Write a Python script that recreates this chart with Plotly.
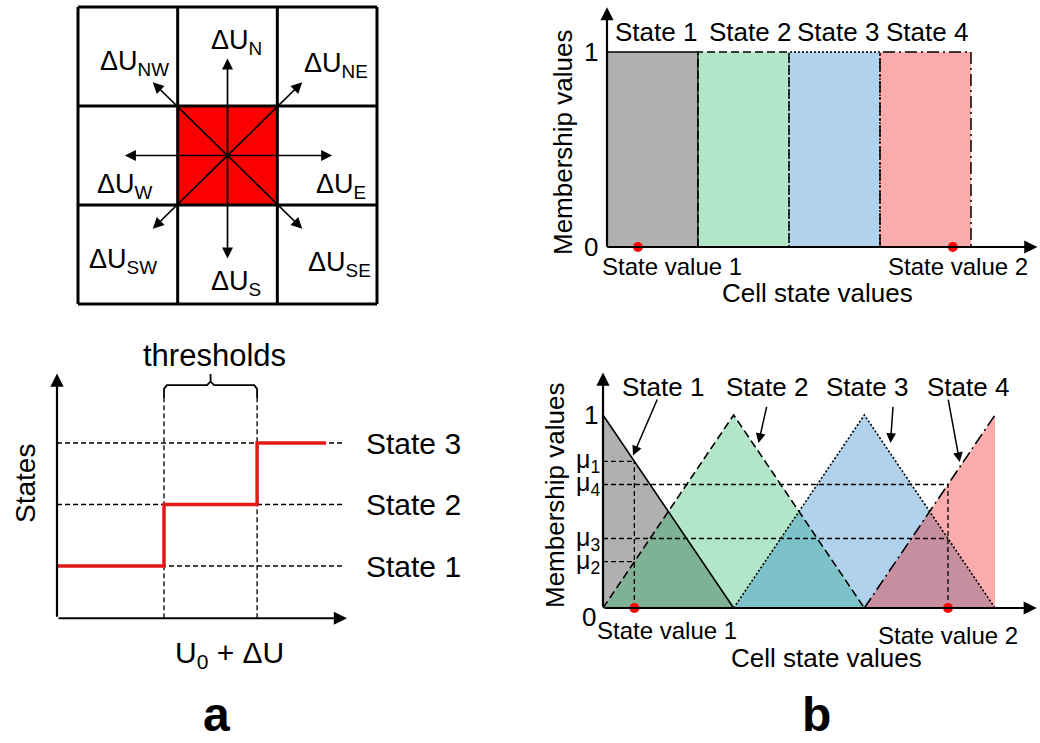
import numpy as np
import plotly.graph_objects as go

W, H = 1040, 743
FONT = "Liberation Sans, Arial, sans-serif"

# ---------------- data ----------------
# (a) top: 3x3 neighbourhood grid
grid_lines = [0, 1, 2, 3]
center_cell = [1, 2]
center_pt = [1.5, 1.5]
arrow_names = ["N", "NE", "E", "SE", "S", "SW", "W", "NW"]
arrow_dx = [0.0, 0.75, 1.05, 0.75, 0.0, -0.75, -1.03, -0.75]
arrow_dy = [0.98, 0.74, 0.0, -0.74, -1.04, -0.74, 0.0, 0.74]

# (a) bottom: step function
state_levels = [1, 2, 3]
state_names = ["State 1", "State 2", "State 3"]
thresholds = [3.69, 6.9]
step_x = [0, 3.69, 6.9, 9.28]
step_y = [1, 2, 3, 3]
guide_end = 9.93
axis_a2_base = 0.15

# (b) top: crisp membership
crisp_edges = [0, 1, 2, 3, 4]
crisp_names = ["State 1", "State 2", "State 3", "State 4"]
crisp_state_values = [0.34, 3.80]

# (b) bottom: fuzzy membership
fuzzy_fill_x = [[0, 0, 1], [0, 1, 2], [1, 2, 3], [2, 3, 3]]
fuzzy_fill_y = [[0, 1, 0], [0, 1, 0], [0, 1, 0], [0, 1, 0]]
fuzzy_line_x = [[0, 1], [0, 1, 2], [1, 2, 3], [2, 3]]
fuzzy_line_y = [[1, 0], [0, 1, 0], [0, 1, 0], [0, 1]]
fuzzy_state_values = [0.24, 2.64]
label_arrow_tail = [(0.42, 1.088), (1.255, 1.05), (2.22, 1.05), (2.64, 1.088)]
label_arrow_head = [(0.23, 0.79), (1.19, 0.855), (2.20, 0.855), (2.73, 0.756)]

fills = ["rgba(29,29,29,0.35)", "rgba(36,184,99,0.35)",
         "rgba(29,126,201,0.35)", "rgba(241,18,18,0.35)"]
dashes = ["solid", "8px,4px", "2px,2px", "12px,4px,2px,4px"]

# membership degrees at the two state values
mu1 = float(np.interp(fuzzy_state_values[0], [0, 1], [1, 0]))
mu2 = float(np.interp(fuzzy_state_values[0], fuzzy_line_x[1], fuzzy_line_y[1]))
mu3 = float(np.interp(fuzzy_state_values[1], fuzzy_line_x[2], fuzzy_line_y[2]))
mu4 = float(np.interp(fuzzy_state_values[1], fuzzy_line_x[3], fuzzy_line_y[3]))


# ---------------- helpers ----------------
def ax_domain(v0, p0, v1, p1, rmin, rmax, size, vertical=False):
    s = (p1 - p0) / (v1 - v0)
    a = p0 + (rmin - v0) * s
    b = p0 + (rmax - v0) * s
    if vertical:
        return [1 - a / size, 1 - b / size]
    return [a / size, b / size]


anns = []
shapes = []


def text(s, x, y, size, angle=0, bold=False, xanchor="center", yanchor="middle"):
    if bold:
        s = "<b>" + s + "</b>"
    anns.append(dict(text=s, x=x / W, y=1 - y / H, xref="paper", yref="paper",
                     showarrow=False, textangle=angle, xanchor=xanchor, yanchor=yanchor,
                     font=dict(size=size, family=FONT, color="black")))


def text_y(s, x, yv, yref, size, xanchor="center"):
    anns.append(dict(text=s, x=x / W, y=yv, xref="paper", yref=yref,
                     showarrow=False, xanchor=xanchor, yanchor="middle",
                     font=dict(size=size, family=FONT, color="black")))


def arrow(xa, ya, x0, y0, x1, y1, width, size=1.0, head=2):
    anns.append(dict(x=x1, y=y1, ax=x0, ay=y0, xref=xa, yref=ya, axref=xa, ayref=ya,
                     text="", showarrow=True, arrowhead=head, arrowsize=size,
                     arrowwidth=width, arrowcolor="black", standoff=0, startstandoff=0))


fig = go.Figure()


def line(xa, ya, xs, ys, color="black", width=1.5, dash="solid"):
    fig.add_trace(go.Scatter(x=xs, y=ys, xaxis=xa, yaxis=ya, mode="lines",
                             line=dict(color=color, width=width, dash=dash),
                             hoverinfo="skip"))


# ---------------- (a) top: grid ----------------
shapes.append(dict(type="rect", xref="x", yref="y", x0=center_cell[0], x1=center_cell[1],
                   y0=center_cell[0], y1=center_cell[1], fillcolor="rgb(250,0,0)",
                   line=dict(width=0), layer="below"))
for g in grid_lines:
    shapes.append(dict(type="line", xref="x", yref="y", x0=g, x1=g, y0=grid_lines[0],
                       y1=grid_lines[-1], line=dict(color="black", width=3)))
    shapes.append(dict(type="line", xref="x", yref="y", y0=g, y1=g, x0=grid_lines[0],
                       x1=grid_lines[-1], line=dict(color="black", width=3)))
for dx, dy in zip(arrow_dx, arrow_dy):
    arrow("x", "y", center_pt[0], center_pt[1], center_pt[0] + dx, center_pt[1] + dy,
          1.7, 1.3, 2)
fig.add_trace(go.Scatter(x=[center_pt[0]], y=[center_pt[1]], xaxis="x", yaxis="y",
                         mode="markers", marker=dict(color="black", size=5), hoverinfo="skip"))

grid_label_pos = {"N": (236, 42), "NE": (336, 65), "E": (341, 186), "SE": (339, 264),
                  "S": (236, 283), "SW": (123, 261), "W": (125, 186), "NW": (134, 63)}
for n in arrow_names:
    px, py = grid_label_pos[n]
    text("\u0394U<sub>%s</sub>" % n, px, py, 27)

# ---------------- (a) bottom: step ----------------
for lv in state_levels:
    line("x2", "y2", [0, guide_end], [lv, lv], dash="5px,3px", width=1.3)
brace_top = 3.73
for t in thresholds:
    line("x2", "y2", [t, t], [axis_a2_base, brace_top], dash="5px,3px", width=1.3)
mid = (thresholds[0] + thresholds[1]) / 2
brace_x = [thresholds[0], thresholds[0], thresholds[0] + 0.1, mid - 0.12, mid, mid, mid,
           mid + 0.12, thresholds[1] - 0.1, thresholds[1], thresholds[1]]
brace_y = [brace_top, 3.88, 3.94, 3.94, 4.0, 4.12, 4.0, 3.94, 3.94, 3.88, brace_top]
line("x2", "y2", brace_x, brace_y, width=1.8)
fig.add_trace(go.Scatter(x=step_x, y=step_y, xaxis="x2", yaxis="y2", mode="lines",
                         line=dict(color="rgb(225,25,25)", width=3.5, shape="hv"),
                         hoverinfo="skip"))
arrow("x2", "y2", 0, axis_a2_base, 0, 4.13, 2.2, 1.2, 2)
arrow("x2", "y2", 0, axis_a2_base, 10.0, axis_a2_base, 2.2, 1.2, 2)
for lv, nm in zip(state_levels, state_names):
    text_y(nm, 413, lv, "y2", 30)
text("thresholds", 214, 355, 31)
text("States", 25, 484, 28, angle=-90)
text("U<sub>0</sub> + \u0394U", 229, 654, 30)
text("a", 216, 743, 48, bold=True, yanchor="bottom")

# ---------------- (b) top: crisp ----------------
for i in range(4):
    a, b = crisp_edges[i], crisp_edges[i + 1]
    fig.add_trace(go.Scatter(x=[a, a, b, b, a], y=[0, 1, 1, 0, 0], xaxis="x3", yaxis="y3",
                             mode="lines", fill="toself", fillcolor=fills[i],
                             line=dict(color="black", width=1.5, dash=dashes[i]),
                             hoverinfo="skip"))
fig.add_trace(go.Scatter(x=crisp_state_values, y=[0, 0], xaxis="x3", yaxis="y3",
                         mode="markers", marker=dict(color="red", size=10),
                         cliponaxis=False, hoverinfo="skip"))
arrow("x3", "y3", 0, 0, 0, 1.23, 2.2, 1.2, 2)
arrow("x3", "y3", 0, 0, 4.73, 0, 2.2, 1.2, 2)
for i, nm in enumerate(crisp_names):
    text(nm, [656, 750, 838, 927][i], 32, 26)
text_y("1", 600, 1, "y3", 26, xanchor="right")
text_y("0", 600, 0, "y3", 26, xanchor="right")
text("Membership values", 563, 143, 26, angle=-90)
text("State value 1", 672, 267, 24)
text("State value 2", 958, 267, 24)
text("Cell state values", 817, 293, 26)

# ---------------- (b) bottom: fuzzy ----------------
for i in range(4):
    fig.add_trace(go.Scatter(x=fuzzy_fill_x[i], y=fuzzy_fill_y[i], xaxis="x4", yaxis="y4",
                             mode="lines", fill="toself", fillcolor=fills[i],
                             line=dict(width=0), hoverinfo="skip"))
for i in range(4):
    line("x4", "y4", fuzzy_line_x[i], fuzzy_line_y[i], width=1.6, dash=dashes[i])
sv1, sv2 = fuzzy_state_values
for m in (mu1, mu2):
    line("x4", "y4", [0, sv1], [m, m], dash="5px,3px", width=1.3)
line("x4", "y4", [sv1, sv1], [0, max(mu1, mu2)], dash="5px,3px", width=1.3)
for m in (mu3, mu4):
    line("x4", "y4", [0, sv2], [m, m], dash="5px,3px", width=1.3)
line("x4", "y4", [sv2, sv2], [0, max(mu3, mu4)], dash="5px,3px", width=1.3)
fig.add_trace(go.Scatter(x=fuzzy_state_values, y=[0, 0], xaxis="x4", yaxis="y4",
                         mode="markers", marker=dict(color="red", size=10),
                         cliponaxis=False, hoverinfo="skip"))
arrow("x4", "y4", 0, 0, 0, 1.22, 2.2, 1.2, 2)
arrow("x4", "y4", 0, 0, 3.32, 0, 2.2, 1.2, 2)
for (tx, ty), (hx, hy) in zip(label_arrow_tail, label_arrow_head):
    arrow("x4", "y4", tx, ty, hx, hy, 1.5, 1.3, 2)
for i, nm in enumerate(crisp_names):
    text(nm, [663, 767, 867, 968][i], 387, 26)
text_y("1", 600, 1, "y4", 26, xanchor="right")
text("0", 598, 617, 26, xanchor="right")
for lab, m in (("\u03bc<sub>1</sub>", mu1), ("\u03bc<sub>2</sub>", mu2),
               ("\u03bc<sub>3</sub>", mu3), ("\u03bc<sub>4</sub>", mu4)):
    text_y(lab, 602, m, "y4", 25, xanchor="right")
text("Membership values", 555, 496, 26, angle=-90)
text("State value 1", 667, 630, 24)
text("State value 2", 948, 635, 24)
text("Cell state values", 826, 658, 26)
text("b", 816, 743, 48, bold=True, yanchor="bottom")


# ---------------- layout ----------------
def axis(dom, rng, anchor):
    return dict(domain=dom, range=rng, anchor=anchor, visible=False, showgrid=False,
                zeroline=False, fixedrange=True)


fig.update_layout(
    width=W, height=H, margin=dict(l=0, r=0, t=0, b=0),
    paper_bgcolor="white", plot_bgcolor="rgba(0,0,0,0)", showlegend=False,
    xaxis=axis(ax_domain(0, 78, 3, 377, -0.1, 3.1, W), [-0.1, 3.1], "y"),
    yaxis=axis(ax_domain(0, 304, 3, 7, -0.1, 3.05, H, True), [-0.1, 3.05], "x"),
    xaxis2=axis(ax_domain(0, 57, 10, 347, -0.3, 10.3, W), [-0.3, 10.3], "y2"),
    yaxis2=axis(ax_domain(1, 566, 3, 443, 0, 4.3, H, True), [0, 4.3], "x2"),
    xaxis3=axis(ax_domain(0, 607, 4, 971, -0.1, 4.75, W), [-0.1, 4.75], "y3"),
    yaxis3=axis(ax_domain(0, 247, 1, 52, -0.05, 1.25, H, True), [-0.05, 1.25], "x3"),
    xaxis4=axis(ax_domain(0, 603, 3, 995, -0.1, 3.34, W), [-0.1, 3.34], "y4"),
    yaxis4=axis(ax_domain(0, 608, 1, 415, -0.05, 1.25, H, True), [-0.05, 1.25], "x4"),
    annotations=anns, shapes=shapes,
)
fig.write_html("out.html")
